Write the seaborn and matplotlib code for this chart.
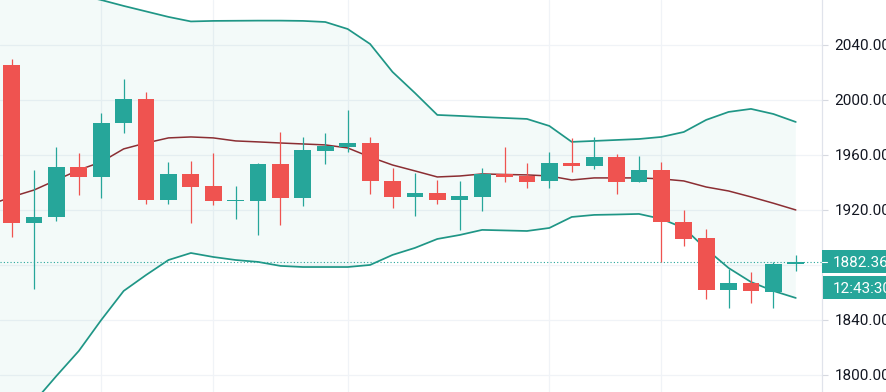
import numpy as np
import pandas as pd
import seaborn as sns
import matplotlib.pyplot as plt
from matplotlib.patches import Rectangle
from matplotlib.lines import Line2D
from matplotlib.transforms import IdentityTransform

# --------------------- data ---------------------
opens = [2025.5, 1910.5, 1914.9, 1951.3, 1944.0, 1983.3, 2000.7, 1927.3, 1946.2, 1937.5,
         1926.5, 1926.5, 1953.5, 1928.7, 1962.9, 1965.8, 1968.7, 1941.1, 1929.5, 1932.4,
         1927.3, 1929.5, 1946.2, 1944.7, 1941.1, 1954.2, 1952.0, 1958.5, 1940.4, 1949.1,
         1911.3, 1899.6, 1861.8, 1866.9, 1860.4, 1880.7]
highs = [2029.8, 1949.1, 1965.8, 1961.5, 1990.5, 2015.3, 2005.8, 1954.9, 1955.6, 1961.5,
         1937.5, 1954.2, 1976.7, 1973.1, 1976.0, 1992.7, 1973.1, 1950.6, 1946.9, 1941.8,
         1941.1, 1950.6, 1965.8, 1954.2, 1962.2, 1972.4, 1973.1, 1960.7, 1959.3, 1954.9,
         1920.0, 1906.2, 1877.1, 1874.9, 1882.2, 1887.3]
lows = [1900.4, 1862.6, 1912.0, 1930.9, 1928.7, 1976.0, 1924.4, 1924.4, 1910.5, 1923.6,
        1913.5, 1901.8, 1909.1, 1922.9, 1953.5, 1962.2, 1931.6, 1921.5, 1915.6, 1924.4,
        1905.5, 1919.3, 1940.4, 1936.0, 1936.0, 1947.6, 1949.8, 1931.6, 1940.4, 1882.2,
        1893.8, 1855.3, 1848.7, 1852.4, 1848.7, 1875.6]
closes = [1910.5, 1914.9, 1951.3, 1944.0, 1983.3, 2000.7, 1927.3, 1946.2, 1936.7, 1926.5,
          1927.3, 1953.5, 1928.7, 1963.6, 1966.5, 1968.7, 1941.1, 1929.5, 1932.4, 1927.3,
          1930.2, 1946.2, 1944.0, 1940.4, 1954.2, 1952.0, 1958.5, 1940.4, 1949.1, 1911.3,
          1898.9, 1861.8, 1866.9, 1861.1, 1880.7, 1882.36]

# Bollinger bands, first value belongs to the bar just left of the view
bb_upper = [2105.5, 2098.2, 2090.9, 2082.9, 2076.4, 2072.7, 2068.4, 2064.4, 2060.4, 2057.1,
            2057.5, 2057.6, 2057.7, 2057.7, 2057.5, 2056.7, 2051.6, 2040.7, 2020.4, 2005.1,
            1989.1, 1988.4, 1987.6, 1986.9, 1986.2, 1981.1, 1969.5, 1970.2, 1970.9, 1971.6,
            1973.1, 1976.7, 1985.5, 1991.3, 1993.5, 1989.8, 1984.0]
bb_basis = [1923.6, 1929.5, 1934.5, 1941.8, 1949.1, 1954.9, 1964.4, 1968.7, 1972.4, 1973.1,
            1972.4, 1970.2, 1969.5, 1968.7, 1968.0, 1967.3, 1965.1, 1958.5, 1952.7, 1948.4,
            1944.0, 1944.7, 1946.2, 1945.8, 1945.5, 1944.7, 1941.8, 1943.3, 1943.3, 1943.3,
            1942.6, 1941.1, 1936.7, 1933.8, 1929.5, 1924.9, 1920.0]
bb_lower = [1744.0, 1762.2, 1780.4, 1799.3, 1817.5, 1840.0, 1861.1, 1872.7, 1883.6, 1888.7,
            1885.8, 1883.6, 1882.2, 1879.3, 1878.5, 1878.5, 1878.5, 1880.0, 1887.3, 1892.4,
            1898.9, 1901.8, 1905.5, 1905.1, 1904.7, 1906.9, 1914.9, 1916.4, 1916.7, 1917.1,
            1913.5, 1906.9, 1891.6, 1877.8, 1867.6, 1861.1, 1856.0]

price_ticks = [1800, 1840, 1880, 1920, 1960, 2000, 2040]
vgrid_bars = [4, 9, 15, 24, 29]
countdown = "12:43:30"

UP = "#26a69a"
DOWN = "#ef5350"
BAND = "#1f9686"
BASIS = "#8b2e33"
GRID = "#f0f3f7"

candles = pd.DataFrame({"open": opens, "high": highs, "low": lows, "close": closes})
candles["bar"] = np.arange(len(candles))
bands = pd.DataFrame({"bar": np.arange(-1, len(bb_upper) - 1),
                      "upper": bb_upper, "basis": bb_basis, "lower": bb_lower})

sns.set_style("white")
plt.rcParams["font.family"] = ["Roboto", "DejaVu Sans"]

fig = plt.figure(figsize=(8.86, 3.92), dpi=100)
ax = fig.add_axes([0, 0, 822 / 886, 1])

# band fill + lines
ax.fill_between(bands["bar"], bands["lower"], bands["upper"], color=UP, alpha=0.055, lw=0)
sns.lineplot(data=bands, x="bar", y="upper", color=BAND, lw=1.25, ax=ax)
sns.lineplot(data=bands, x="bar", y="lower", color=BAND, lw=1.25, ax=ax)
sns.lineplot(data=bands, x="bar", y="basis", color=BASIS, lw=1.1, ax=ax)

# candles
colors = np.where(candles["close"] >= candles["open"], UP, DOWN)
ax.vlines(candles["bar"], candles["low"], candles["high"], colors=colors, lw=0.9, zorder=3)
body_low = np.minimum(candles["open"], candles["close"])
body_h = np.maximum(np.abs(candles["close"] - candles["open"]), 0.8)
ax.bar(candles["bar"], body_h, bottom=body_low, width=0.75, color=colors, lw=0, zorder=4)

last_close = closes[-1]
ax.axhline(last_close, color=UP, lw=0.8, ls=(0, (1, 2)), zorder=2)

ax.set_xlim(-0.52, 36.17)
ax.set_ylim(1787.6, 2072.7)
ax.set_xlabel("")
ax.set_ylabel("")
ax.set_xticks(vgrid_bars)
ax.set_xticklabels([])
ax.tick_params(axis="x", length=0)
ax.set_yticks(price_ticks)
ax.set_yticklabels([f"{t:.2f}" if t != 1880 else "" for t in price_ticks])
ax.yaxis.tick_right()
ax.tick_params(axis="y", length=4, width=0.8, color="#d6d9e0", pad=5,
               labelsize=11, labelcolor="#131722")
ax.grid(True, color=GRID, lw=0.9)
for side in ["top", "left", "bottom"]:
    ax.spines[side].set_visible(False)
ax.spines["right"].set_color("#e0e3eb")
ax.spines["right"].set_linewidth(0.9)

# last price + countdown labels on the scale
yp = ax.transData.transform((0, last_close))[1]
xr = ax.transAxes.transform((1, 0))[0]
fig.patches.append(Rectangle((xr, yp - 11.5), 80, 23, transform=IdentityTransform(),
                             facecolor=UP, edgecolor="none", figure=fig))
fig.patches.append(Rectangle((xr + 1, yp - 37), 80, 23, transform=IdentityTransform(),
                             facecolor=UP, edgecolor="none", figure=fig))
fig.lines.append(Line2D([xr, xr + 5], [yp, yp], transform=IdentityTransform(),
                        color="white", lw=0.8, figure=fig))
fig.text(xr + 11, yp, f"{last_close:.2f}", transform=IdentityTransform(),
         color="white", fontsize=11, va="center_baseline", ha="left")
fig.text(xr + 11, yp - 25.5, countdown, transform=IdentityTransform(),
         color="white", fontsize=11, va="center_baseline", ha="left")

plt.savefig("out.png", dpi=100)
